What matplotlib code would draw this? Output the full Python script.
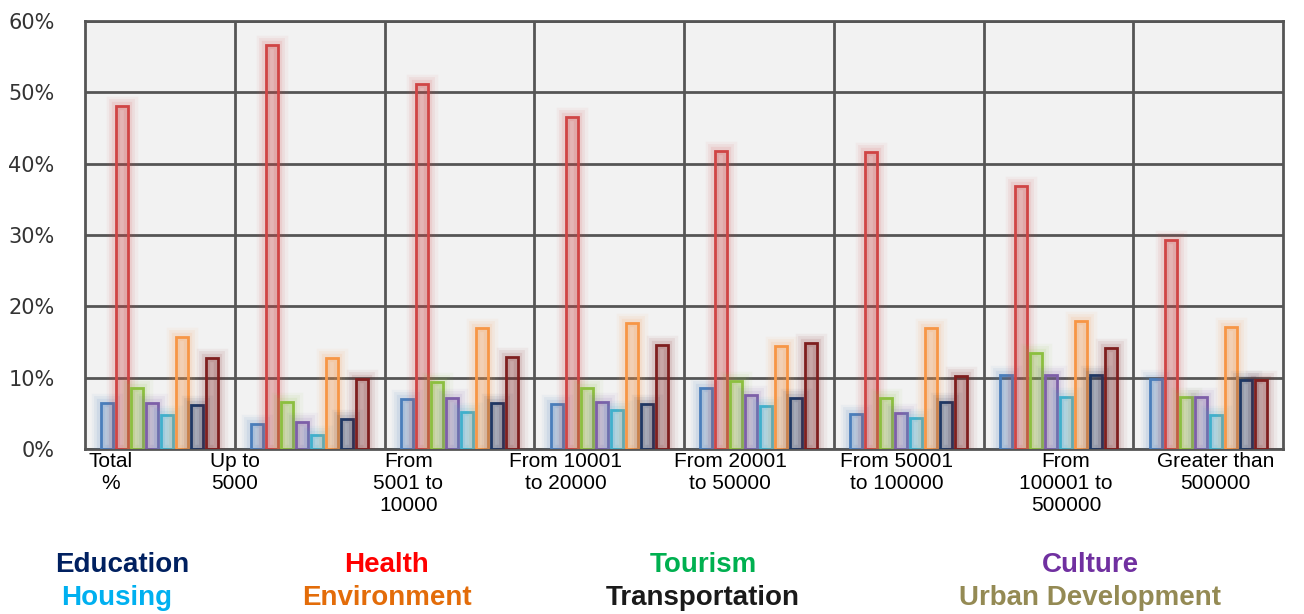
import matplotlib.pyplot as plt
import matplotlib.patheffects as pe
import matplotlib.colors as mcolors
import numpy as np

groups = ["Total\n%", "Up to\n5000", "From\n5001 to\n10000", "From 10001\nto 20000",
          "From 20001\nto 50000", "From 50001\nto 100000", "From\n100001 to\n500000",
          "Greater than\n500000"]

education      = [6.4, 3.5, 7.0, 6.3, 8.6, 4.9, 10.4, 9.8]
health         = [48.1, 56.7, 51.2, 46.5, 41.8, 41.6, 36.8, 29.3]
tourism        = [8.6, 6.6, 9.4, 8.5, 9.5, 7.1, 13.5, 7.3]
culture        = [6.4, 3.8, 7.1, 6.6, 7.6, 5.1, 10.4, 7.3]
housing        = [4.7, 1.9, 5.2, 5.4, 6.0, 4.3, 7.3, 4.8]
environment    = [15.7, 12.8, 17.0, 17.7, 14.5, 17.0, 18.0, 17.1]
transportation = [6.2, 4.2, 6.4, 6.3, 7.1, 6.6, 10.4, 9.7]
urban          = [12.8, 9.8, 12.9, 14.6, 14.9, 10.2, 14.2, 9.7]

series = [education, health, tourism, culture, housing, environment, transportation, urban]
bar_colors = ["#4a7ebb", "#d04545", "#8cbf3f", "#7d5fa8", "#3fb0cc", "#f79646", "#1f3864", "#7f1f1f"]

legend_names = ["Education", "Health", "Tourism", "Culture",
                "Housing", "Environment", "Transportation", "Urban Development"]
legend_colors = ["#002060", "#ff0000", "#00b050", "#7030a0",
                 "#00b0f0", "#e36c09", "#1a1a1a", "#948a54"]

# x label centres (labels are offset from the group centres in the original)
label_x = [-0.33, 0.50, 1.66, 2.71, 3.81, 4.92, 6.05, 7.05]

plt.rcParams['font.family'] = ['Liberation Sans', 'DejaVu Sans']

fig = plt.figure(figsize=(13.04, 6.14), dpi=100)
ax = fig.add_axes([0.0652, 0.2687, 0.9187, 0.6971])
ax.set_facecolor("#f2f2f2")

x = np.arange(len(groups))
width = 0.08
for i, (vals, c) in enumerate(zip(series, bar_colors)):
    pos = x + (i - 3.5) * 0.1
    rgba = mcolors.to_rgba(c, 0.06)
    bars = ax.bar(pos, vals, width, facecolor=rgba, edgecolor=c, linewidth=2, zorder=3)
    for b in bars:
        b.set_path_effects([
            pe.Stroke(linewidth=14, foreground=c, alpha=0.05),
            pe.Stroke(linewidth=10, foreground=c, alpha=0.07),
            pe.Stroke(linewidth=6, foreground=c, alpha=0.10),
            pe.Normal(),
        ])

# vertical separators between groups
for b in np.arange(1, len(groups)) - 0.5:
    ax.axvline(b, color="#555555", linewidth=2, zorder=1)

ax.set_xlim(-0.5, len(groups) - 0.5)
ax.set_ylim(0, 60)
ax.set_yticks(np.arange(0, 61, 10))
ax.set_yticklabels([f"{v}%" for v in range(0, 61, 10)], fontsize=15, family='DejaVu Sans',
                   color="#333333")
ax.set_xticks(label_x)
ax.set_xticklabels(groups, fontsize=15, linespacing=1.2)
ax.tick_params(axis='both', which='both', length=0)
ax.tick_params(axis='x', pad=2)
ax.tick_params(axis='y', pad=22)
ax.grid(axis='y', color="#555555", linewidth=2, zorder=1)
ax.grid(axis='x', visible=False)
ax.set_axisbelow(True)
for s in ax.spines.values():
    s.set_color("#555555")
    s.set_linewidth(2)

legend_pos = [(122, 565), (387, 565), (703, 565), (1090, 565),
              (117, 598), (387, 598), (703, 598), (1090, 598)]
for name, col, (px, py) in zip(legend_names, legend_colors, legend_pos):
    fig.text(px / 1304, 1 - py / 614, name, color=col, fontsize=20, fontweight='bold',
             ha='center', va='center', family=['Liberation Sans Narrow', 'Liberation Sans'])

fig.savefig("out.png", dpi=100)
